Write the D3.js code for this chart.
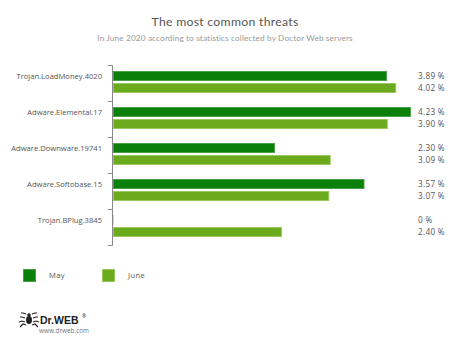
<!DOCTYPE html>
<html>
<head>
<meta charset="utf-8">
<script src="https://cdn.jsdelivr.net/npm/d3@7"></script>
<style>
  html, body { margin: 0; padding: 0; background: #fff; }
  svg { display: block; font-family: "Open Sans", "DejaVu Sans", sans-serif; }
</style>
</head>
<body>
<svg id="chart" width="450" height="344"></svg>
<script>
// Threat names and monthly shares (%)
const categories = ["Trojan.LoadMoney.4020", "Adware.Elemental.17", "Adware.Downware.19741", "Adware.Softobase.15", "Trojan.BPlug.3845"];
const seriesNames = ["May", "June"];
const mayValues = [3.89, 4.23, 2.30, 3.57, 0];
const juneValues = [4.02, 3.90, 3.09, 3.07, 2.40];
const valueLabels = [["3.89 %", "4.02 %"], ["4.23 %", "3.90 %"], ["2.30 %", "3.09 %"], ["3.57 %", "3.07 %"], ["0 %", "2.40 %"]];

const fills = ["#0a7f0a", "#6aaa1c"];
const strokes = ["#49a049", "#98c95a"];

const svg = d3.select("#chart");

// Titles
svg.append("text").attr("x", 225).attr("y", 26).attr("text-anchor", "middle")
  .attr("font-family", "Lato, 'Open Sans', sans-serif")
  .attr("font-size", 12.2).attr("fill", "#555").attr("letter-spacing", 0.3)
  .text("The most common threats");
svg.append("text").attr("x", 225).attr("y", 41).attr("text-anchor", "middle")
  .attr("font-family", "Lato, 'Open Sans', sans-serif")
  .attr("font-size", 8.3).attr("fill", "#9a9a9a").attr("letter-spacing", 0.1)
  .text("In June 2020 according to statistics collected by Doctor Web servers");

// Scales
const y = d3.scaleBand().domain(categories).range([65, 245]).paddingInner(0).paddingOuter(0);
const x = d3.scaleLinear().domain([0, 4.23]).range([113, 411]);
const sub = d3.scaleBand().domain(seriesNames).range([6, 28]).paddingInner(0.17);

// Category axis
const axis = d3.axisLeft(y).tickSize(0).tickFormat("");
const gAxis = svg.append("g").attr("transform", "translate(112,0)").call(axis);
gAxis.select(".domain").attr("stroke", "#888").attr("stroke-width", 1)
  .attr("d", `M-4,65.5H0.5V245.5H-4`);
// boundary ticks between bands
const bounds = categories.slice(1).map(c => y(c));
gAxis.selectAll("line.sep").data(bounds).join("line").attr("class", "sep")
  .attr("x1", -4).attr("x2", 0).attr("y1", d => d + 0.5).attr("y2", d => d + 0.5)
  .attr("stroke", "#888");

// Category labels, centred on the May bar
svg.append("g").selectAll("text").data(categories).join("text")
  .attr("x", 102).attr("y", d => y(d) + sub("May") + sub.bandwidth() / 2)
  .attr("dy", "0.35em").attr("text-anchor", "end")
  .attr("font-size", 7.6).attr("fill", "#555").text(d => d);

// Bars
const rows = categories.map((c, i) => ({ c, i, vals: [mayValues[i], juneValues[i]] }));
const groups = svg.append("g").selectAll("g").data(rows).join("g")
  .attr("transform", d => `translate(0,${y(d.c)})`);

groups.selectAll("rect").data(d => d.vals.map((v, k) => ({ v, k, name: seriesNames[k] }))).join("rect")
  .attr("x", x(0) + 0.5)
  .attr("y", d => sub(d.name) + 0.5)
  .attr("width", d => Math.max(0.01, x(d.v) - x(0) - 1))
  .attr("height", sub.bandwidth() - 1)
  .attr("fill", d => fills[d.k])
  .attr("stroke", d => d.v === 0 ? "#c6e2c6" : strokes[d.k])
  .attr("stroke-width", 1);

// Value labels
groups.selectAll("text").data(d => valueLabels[d.i].map((t, k) => ({ t, name: seriesNames[k] }))).join("text")
  .attr("x", 418).attr("y", d => sub(d.name) + sub.bandwidth() / 2)
  .attr("dy", "0.35em").attr("font-size", 8.2).attr("fill", "#555").attr("letter-spacing", 0.3)
  .text(d => d.t);

// Legend
const legendX = [23, 102];
const legend = svg.append("g").selectAll("g").data(seriesNames).join("g")
  .attr("transform", (d, i) => `translate(${legendX[i]},269)`);
legend.append("rect").attr("x", 0.5).attr("y", 0.5).attr("width", 12).attr("height", 12)
  .attr("fill", (d, i) => fills[i]).attr("stroke", (d, i) => strokes[i]);
legend.append("text").attr("x", 26).attr("y", 6.5).attr("dy", "0.35em")
  .attr("font-size", 7.6).attr("fill", "#555").attr("letter-spacing", 0.4).text(d => d);

// Logo
const logo = svg.append("g").attr("transform", "translate(20,312)");
const icon = logo.append("g").attr("fill", "#222").attr("stroke", "#222");
icon.append("ellipse").attr("cx", 9).attr("cy", 8).attr("rx", 3).attr("ry", 4).attr("stroke", "none");
icon.append("circle").attr("cx", 9).attr("cy", 3).attr("r", 1.8).attr("stroke", "none");
[-1, 1].forEach(s => {
  [[3, 2, 0, 1], [4, 6, 0, 5], [4, 10, 1, 10], [3, 13, 1, 15]].forEach(([a, b, c, d]) => {
    icon.append("path").attr("fill", "none").attr("stroke-width", 1.1)
      .attr("d", `M${9 + s * a},${b} L${9 + s * (a + 3)},${b - 1} L${9 + s * (a + 5 + c)},${d}`);
  });
});
logo.append("text").attr("x", 20).attr("y", 11.5).attr("font-size", 10.5).attr("font-weight", "bold")
  .attr("fill", "#222").attr("font-family", "Arial, 'Liberation Sans', sans-serif").text("Dr.WEB");
logo.append("text").attr("x", 62).attr("y", 6).attr("font-size", 5).attr("fill", "#222").text("®");
logo.append("text").attr("x", 19).attr("y", 20.5).attr("font-size", 6.4).attr("fill", "#777").text("www.drweb.com");
</script>
</body>
</html>
